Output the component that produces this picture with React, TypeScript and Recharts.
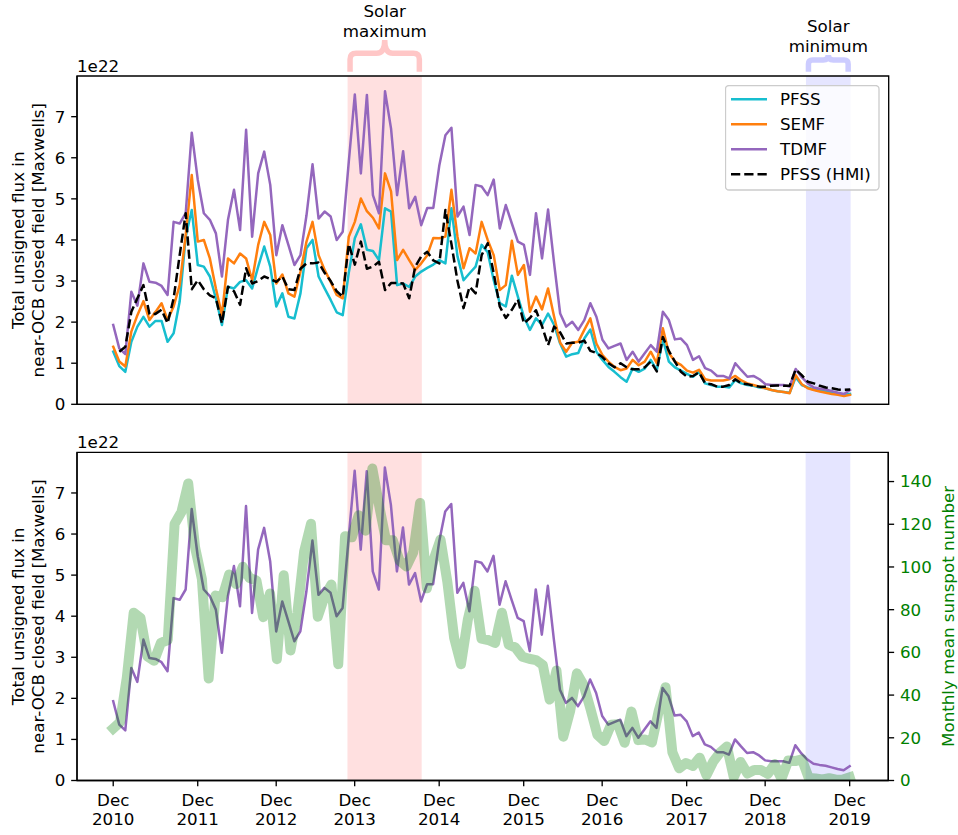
import React from 'react';
import { LineChart, Line, XAxis, YAxis, ReferenceArea, Legend, Label } from 'recharts';

const FONT = '"DejaVu Sans", sans-serif';
const FS = 16.7;

// x positions are Carrington-rotation indices (0 = Dec 2010, 122 = Dec 2019)
const tickIdx = [0, 14, 27, 40, 54, 68, 81, 95, 108, 122];
const tickYears = ['2010', '2011', '2012', '2013', '2014', '2015', '2016', '2017', '2018', '2019'];
const fluxTicks = [0, 1, 2, 3, 4, 5, 6, 7];
const sunTicks = [0, 20, 40, 60, 80, 100, 120, 140];

const pfss = [
  1.28, 0.93, 0.79, 1.52, 1.89, 2.13, 1.89, 2.03, 2.03, 1.52, 1.73, 2.5, 4.08, 4.73, 3.39, 3.35, 3.11, 2.58, 1.93, 2.86,
  2.82, 2.98, 3.02, 2.82, 3.35, 3.84, 3.35, 2.38, 2.7, 2.13, 2.09, 2.7, 3.8, 4.0, 3.11, 2.82, 2.54, 2.24, 2.17, 3.2,
  4.04, 4.38, 3.76, 3.73, 3.51, 4.77, 4.69, 2.9, 2.94, 2.86, 3.11, 3.23, 3.32, 3.4, 3.51, 3.43, 4.77, 3.6, 3.02, 3.19,
  3.35, 3.88, 3.7, 3.02, 2.46, 2.38, 3.13, 2.62, 2.13, 1.81, 2.09, 1.93, 2.21, 1.93, 1.48, 1.16, 1.22, 1.25, 1.6, 1.82,
  1.28, 1.08, 0.91, 0.79, 0.66, 0.55, 0.87, 0.79, 0.87, 1.08, 0.83, 1.6, 1.04, 0.9, 0.82, 0.74, 0.67, 0.79, 0.51, 0.47,
  0.43, 0.43, 0.41, 0.59, 0.51, 0.47, 0.45, 0.41, 0.39, 0.35, 0.32, 0.3, 0.28, 0.66, 0.47, 0.41, 0.36, 0.33, 0.31, 0.28,
  0.25, 0.23, 0.25,
];
const semf = [
  1.4, 1.04, 0.92, 1.77, 2.17, 2.51, 2.05, 2.25, 2.46, 2.05, 2.38, 2.9, 4.12, 5.58, 3.96, 4.0, 3.55, 2.82, 2.17, 3.55,
  3.43, 3.67, 3.55, 3.02, 3.88, 4.44, 4.12, 2.94, 3.16, 2.7, 2.62, 3.23, 3.96, 4.44, 3.63, 3.27, 2.98, 2.66, 2.58, 4.08,
  4.44, 5.01, 4.7, 4.54, 4.28, 5.62, 5.18, 3.51, 3.76, 3.51, 3.27, 3.43, 3.63, 4.05, 4.04, 4.08, 5.22, 4.08, 3.31, 3.8,
  3.67, 4.44, 4.0, 3.63, 2.78, 2.9, 3.98, 3.15, 3.39, 2.25, 2.62, 2.31, 2.82, 2.13, 1.5, 1.28, 1.5, 1.52, 1.81, 2.09,
  1.48, 1.2, 1.04, 0.91, 0.83, 0.87, 1.08, 0.95, 1.04, 1.28, 1.0, 1.85, 1.25, 1.04, 0.96, 0.82, 0.77, 0.84, 0.61, 0.58,
  0.58, 0.58, 0.61, 0.69, 0.58, 0.51, 0.47, 0.43, 0.39, 0.35, 0.32, 0.3, 0.27, 0.71, 0.49, 0.39, 0.35, 0.31, 0.28, 0.25,
  0.23, 0.2, 0.23,
];
const tdmf = [
  1.93, 1.36, 1.22, 2.74, 2.4, 3.43, 2.98, 2.96, 2.88, 2.66, 4.44, 4.4, 4.65, 6.61, 5.46, 4.65, 4.49, 4.16, 3.11, 4.49,
  5.22, 4.24, 6.68, 4.08, 5.62, 6.15, 5.34, 3.63, 4.36, 3.88, 3.39, 3.63, 4.6, 5.84, 4.52, 4.69, 4.57, 4.0, 4.2, 5.9,
  7.54, 5.62, 7.53, 5.09, 4.65, 7.62, 6.71, 5.09, 6.16, 4.77, 5.05, 4.36, 4.78, 4.78, 5.82, 6.55, 6.73, 4.57, 4.81, 4.12,
  5.34, 5.3, 5.09, 5.47, 4.28, 4.85, 4.4, 3.96, 3.88, 3.15, 4.65, 3.55, 4.74, 3.43, 2.21, 1.89, 2.01, 1.81, 2.05, 2.46,
  2.13, 1.57, 1.36, 1.42, 1.48, 1.08, 1.28, 1.04, 1.24, 1.44, 1.28, 2.25, 2.05, 1.58, 1.6, 1.44, 1.08, 1.17, 0.88, 0.82,
  0.69, 0.69, 0.63, 1.0, 0.83, 0.67, 0.69, 0.61, 0.49, 0.47, 0.47, 0.47, 0.43, 0.86, 0.66, 0.51, 0.41, 0.38, 0.36, 0.32,
  0.28, 0.25, 0.35,
];
const hmi = [
  null, 1.28, 1.4, 2.25, 2.58, 2.9, 2.2, 2.2, 2.3, 1.97, 2.58, 3.63, 4.65, 2.8, 3.02, 2.8, 2.65, 2.58, 1.97, 2.86,
  2.75, 2.42, 3.31, 2.94, 3.0, 3.11, 3.05, 2.98, 3.11, 2.8, 2.78, 3.3, 3.43, 3.43, 3.45, 3.2, 3.0, 2.75, 2.62, 3.9,
  3.4, 3.96, 3.3, 3.35, 3.47, 2.78, 2.95, 2.95, 2.94, 2.58, 3.35, 3.6, 3.71, 3.5, 3.43, 4.73, 3.9, 3.0, 2.34, 2.86,
  2.7, 3.63, 3.92, 3.19, 2.38, 2.1, 2.3, 2.55, 1.97, 2.1, 2.29, 1.9, 1.44, 1.89, 1.75, 1.48, 1.5, 1.5, 1.55, 1.3,
  1.25, 1.15, 1.0, 0.9, 1.0, 0.9, 0.85, 0.85, 0.9, 1.04, 0.8, 1.64, 1.3, 1.04, 0.79, 0.67, 0.69, 0.78, 0.51, 0.49,
  0.43, 0.43, 0.47, 0.61, 0.51, 0.49, 0.45, 0.43, 0.43, 0.45, 0.46, 0.45, 0.45, 0.85, 0.71, 0.55, 0.51, 0.45, 0.41, 0.39,
  0.36, 0.35, 0.36,
];
// monthly mean sunspot number, Dec 2010 .. Dec 2019
const sunspot = [
  24.4,
  27.3, 48.3, 78.6, 76.1, 58.2, 56.1, 64.5, 65.8, 120.1, 125.7, 139.1, 109.3,
  94.4, 47.8, 86.6, 85.9, 96.5, 92.0, 100.1, 94.8, 93.7, 76.5, 87.6, 56.8,
  96.1, 60.9, 78.3, 107.3, 120.2, 76.7, 86.2, 91.8, 54.5, 114.4, 113.9, 124.2,
  117.0, 146.1, 128.7, 112.5, 112.5, 102.9, 100.2, 106.9, 130.0, 90.0, 103.6, 112.9,
  93.0, 66.7, 54.5, 75.3, 88.8, 66.5, 65.8, 64.4, 78.6, 63.6, 62.2, 58.0,
  57.0, 56.4, 54.1, 37.9, 51.5, 20.5, 32.4, 50.2, 44.6, 33.4, 21.4, 18.5,
  26.1, 26.4, 17.7, 32.3, 18.9, 19.2, 17.8, 32.6, 43.7, 13.2, 5.7, 8.2,
  6.8, 10.7, 2.5, 8.9, 13.1, 15.9, 1.6, 8.7, 3.3, 4.9, 4.9, 3.1,
  7.7, 0.8, 9.4, 9.1, 9.9, 1.2, 0.9, 0.5, 1.1, 0.4, 0.5, 1.5,
];
const solarMax = [38.8, 51.1];
const solarMin = [114.7, 122.1];

const seriesInfo = [
  { key: 'pfss', name: 'PFSS', color: '#17becf', dash: undefined as string | undefined },
  { key: 'semf', name: 'SEMF', color: '#ff7f0e', dash: undefined as string | undefined },
  { key: 'tdmf', name: 'TDMF', color: '#9467bd', dash: undefined as string | undefined },
  { key: 'hmi', name: 'PFSS (HMI)', color: '#000000', dash: '9.25 4' },
];

const rows = pfss.map((v, i) => ({ i, pfss: v, semf: semf[i], tdmf: tdmf[i], hmi: hmi[i] }));
const sunRows = sunspot.map((s, m) => ({ i: (m * 122) / 108, sun: s }));

const X_DOMAIN: [number, number] = [-6.0, 128.4];
const Y_DOMAIN: [number, number] = [0, 7.99];
const SUN_DOMAIN: [number, number] = [0, 153.7];
const SPINE = 1.33;
const TICK = 5.83;

const makeBrace = (color: string, lines: string[], barFrac: number, r: number, r2: number) => (p: any) => {
  const { x, y, width, height } = p;
  const xL = x + 2.5;
  const xR = x + width - 2.5;
  const xC = x + width / 2;
  const yB = y + height;
  const yT = y;
  const yBar = yB - barFrac * height;
  const d =
    `M ${xL} ${yB} L ${xL} ${yBar + r} Q ${xL} ${yBar} ${xL + r} ${yBar} L ${xC - r2} ${yBar} Q ${xC} ${yBar} ${xC} ${yT} ` +
    `M ${xR} ${yB} L ${xR} ${yBar + r} Q ${xR} ${yBar} ${xR - r} ${yBar} L ${xC + r2} ${yBar} Q ${xC} ${yBar} ${xC} ${yT}`;
  return (
    <g>
      <path d={d} fill="none" stroke={color} strokeWidth={5.5} strokeLinejoin="round" />
      <text x={xC} y={yT - 23.5} textAnchor="middle" fontSize={FS} fontFamily={FONT} fill="#000">{lines[0]}</text>
      <text x={xC} y={yT - 3.5} textAnchor="middle" fontSize={FS} fontFamily={FONT} fill="#000">{lines[1]}</text>
    </g>
  );
};

const YearTick = (props: any) => {
  const { x, y, payload } = props;
  const k = tickIdx.indexOf(payload.value);
  return (
    <text x={x} y={y} textAnchor="middle" fontSize={FS} fontFamily={FONT} fill="#000">
      <tspan x={x} dy={13.4}>Dec</tspan>
      <tspan x={x} dy={19.5}>{tickYears[k]}</tspan>
    </text>
  );
};

const leftTitle = (cy: number) => () => {
  const x1 = 24.3;
  const x2 = 43.7;
  return (
    <g>
      <text x={x1} y={cy} transform={`rotate(-90 ${x1} ${cy})`} textAnchor="middle" fontSize={FS} fontFamily={FONT} fill="#000">
        Total unsigned flux in
      </text>
      <text x={x2} y={cy} transform={`rotate(-90 ${x2} ${cy})`} textAnchor="middle" fontSize={FS} fontFamily={FONT} fill="#000">
        near-OCB closed field [Maxwells]
      </text>
    </g>
  );
};

const offsetText = (yBase: number) => () => (
  <text x={77} y={yBase} fontSize={FS} fontFamily={FONT} fill="#000">1e22</text>
);

const rightTitle = (cy: number) => () => {
  const x = 954.3;
  return (
    <text x={x} y={cy} transform={`rotate(-90 ${x} ${cy})`} textAnchor="middle" fontSize={FS} fontFamily={FONT} fill="green">
      Monthly mean sunspot number
    </text>
  );
};

const LegendBox = () => (
  <svg width={155} height={106} style={{ display: 'block' }}>
    <rect x={0.5} y={0.5} width={153.5} height={104.5} rx={3.5} fill="#fff" fillOpacity={0.8} stroke="#cccccc" strokeWidth={1.33} />
    {seriesInfo.map((s, k) => {
      const cy = 14.3 + 25 * k;
      return (
        <g key={s.key}>
          <line x1={6} x2={42} y1={cy} y2={cy} stroke={s.color} strokeWidth={2.5} strokeDasharray={s.dash} />
          <text x={55} y={cy + 6} fontSize={FS} fontFamily={FONT} fill="#000">{s.name}</text>
        </g>
      );
    })}
  </svg>
);

const tickStyle = { fontSize: FS, fontFamily: FONT, fill: '#000' };

export default function App() {
  return (
    <div style={{ position: 'absolute', left: 0, top: 0, width: 958, height: 835, background: '#fff', fontFamily: FONT }}>
      <div style={{ position: 'absolute', left: 0, top: 0 }}>
        <LineChart width={958} height={440} data={rows} margin={{ top: 76, right: 69.3, bottom: 5.7, left: 17 }}>
          <ReferenceArea x1={solarMax[0]} x2={solarMax[1]} y1={0} y2={Y_DOMAIN[1]} fill="#ff0000" fillOpacity={0.12} stroke="none" />
          <ReferenceArea x1={solarMin[0]} x2={solarMin[1]} y1={0} y2={Y_DOMAIN[1]} fill="#0000ff" fillOpacity={0.1} stroke="none" />
          <ReferenceArea
            x1={solarMax[0]}
            x2={solarMax[1]}
            y1={8.094}
            y2={8.866}
            ifOverflow="visible"
            shape={makeBrace('rgba(255,0,0,0.22)', ['Solar', 'maximum'], 0.58, 6, 8)}
          />
          <ReferenceArea
            x1={solarMin[0]}
            x2={solarMin[1]}
            y1={8.094}
            y2={8.5}
            ifOverflow="visible"
            shape={makeBrace('rgba(0,0,255,0.2)', ['Solar', 'minimum'], 0.7, 4, 5)}
          />
          <XAxis
            dataKey="i"
            type="number"
            domain={X_DOMAIN}
            allowDataOverflow
            ticks={tickIdx}
            tick={false}
            tickSize={TICK}
            height={30}
            axisLine={{ stroke: '#000', strokeWidth: SPINE }}
            tickLine={{ stroke: '#000', strokeWidth: SPINE }}
          />
          <YAxis
            type="number"
            domain={Y_DOMAIN}
            allowDataOverflow
            ticks={fluxTicks}
            width={60}
            tickSize={TICK}
            tickMargin={5.83}
            tick={tickStyle}
            axisLine={{ stroke: '#000', strokeWidth: SPINE }}
            tickLine={{ stroke: '#000', strokeWidth: SPINE }}
          >
            <Label content={leftTitle(240.2)} />
            <Label content={offsetText(71.7)} />
          </YAxis>
          {seriesInfo.map((s) => (
            <Line
              key={s.key}
              dataKey={s.key}
              stroke={s.color}
              strokeWidth={2.5}
              strokeDasharray={s.dash}
              strokeLinejoin="round"
              strokeLinecap={s.dash ? 'butt' : 'square'}
              dot={false}
              activeDot={false}
              isAnimationActive={false}
            />
          ))}
          <ReferenceArea x1={X_DOMAIN[0]} x2={X_DOMAIN[1]} y1={Y_DOMAIN[0]} y2={Y_DOMAIN[1]} fill="none" stroke="#000" strokeWidth={SPINE} />
          <Legend
            layout="vertical"
            align="center"
            verticalAlign="middle"
            content={LegendBox}
            wrapperStyle={{ position: 'absolute', left: 725, top: 85, width: 155, height: 106 }}
          />
        </LineChart>
      </div>
      <div style={{ position: 'absolute', left: 0, top: 420 }}>
        <LineChart width={958} height={415} data={rows} margin={{ top: 32.3, right: 9.7, bottom: 14.5, left: 17 }}>
          <ReferenceArea yAxisId="left" x1={solarMax[0]} x2={solarMax[1]} y1={0} y2={Y_DOMAIN[1]} fill="#ff0000" fillOpacity={0.12} stroke="none" />
          <ReferenceArea yAxisId="left" x1={solarMin[0]} x2={solarMin[1]} y1={0} y2={Y_DOMAIN[1]} fill="#0000ff" fillOpacity={0.1} stroke="none" />
          <XAxis
            dataKey="i"
            type="number"
            domain={X_DOMAIN}
            allowDataOverflow
            ticks={tickIdx}
            tick={<YearTick />}
            tickSize={TICK}
            tickMargin={5.83}
            height={40}
            axisLine={{ stroke: '#000', strokeWidth: SPINE }}
            tickLine={{ stroke: '#000', strokeWidth: SPINE }}
          />
          <YAxis
            yAxisId="left"
            type="number"
            domain={Y_DOMAIN}
            allowDataOverflow
            ticks={fluxTicks}
            width={60}
            tickSize={TICK}
            tickMargin={5.83}
            tick={tickStyle}
            axisLine={{ stroke: '#000', strokeWidth: SPINE }}
            tickLine={{ stroke: '#000', strokeWidth: SPINE }}
          >
            <Label content={leftTitle(196.4)} />
            <Label content={offsetText(28.3)} />
          </YAxis>
          <YAxis
            yAxisId="right"
            orientation="right"
            type="number"
            domain={SUN_DOMAIN}
            allowDataOverflow
            ticks={sunTicks}
            width={60}
            tickSize={TICK}
            tickMargin={5.83}
            tick={{ fontSize: FS, fontFamily: FONT, fill: 'green' }}
            axisLine={{ stroke: '#000', strokeWidth: SPINE }}
            tickLine={{ stroke: '#000', strokeWidth: SPINE }}
          >
            <Label content={rightTitle(196.4)} />
          </YAxis>
          <Line
            yAxisId="left"
            dataKey="tdmf"
            stroke="#9467bd"
            strokeWidth={2.5}
            strokeLinejoin="round"
            strokeLinecap="square"
            dot={false}
            activeDot={false}
            isAnimationActive={false}
          />
          <Line
            yAxisId="right"
            data={sunRows}
            dataKey="sun"
            stroke="green"
            strokeOpacity={0.3}
            strokeWidth={10}
            strokeLinejoin="round"
            strokeLinecap="square"
            dot={false}
            activeDot={false}
            isAnimationActive={false}
          />
          <ReferenceArea yAxisId="left" x1={X_DOMAIN[0]} x2={X_DOMAIN[1]} y1={Y_DOMAIN[0]} y2={Y_DOMAIN[1]} fill="none" stroke="#000" strokeWidth={SPINE} />
        </LineChart>
      </div>
    </div>
  );
}
